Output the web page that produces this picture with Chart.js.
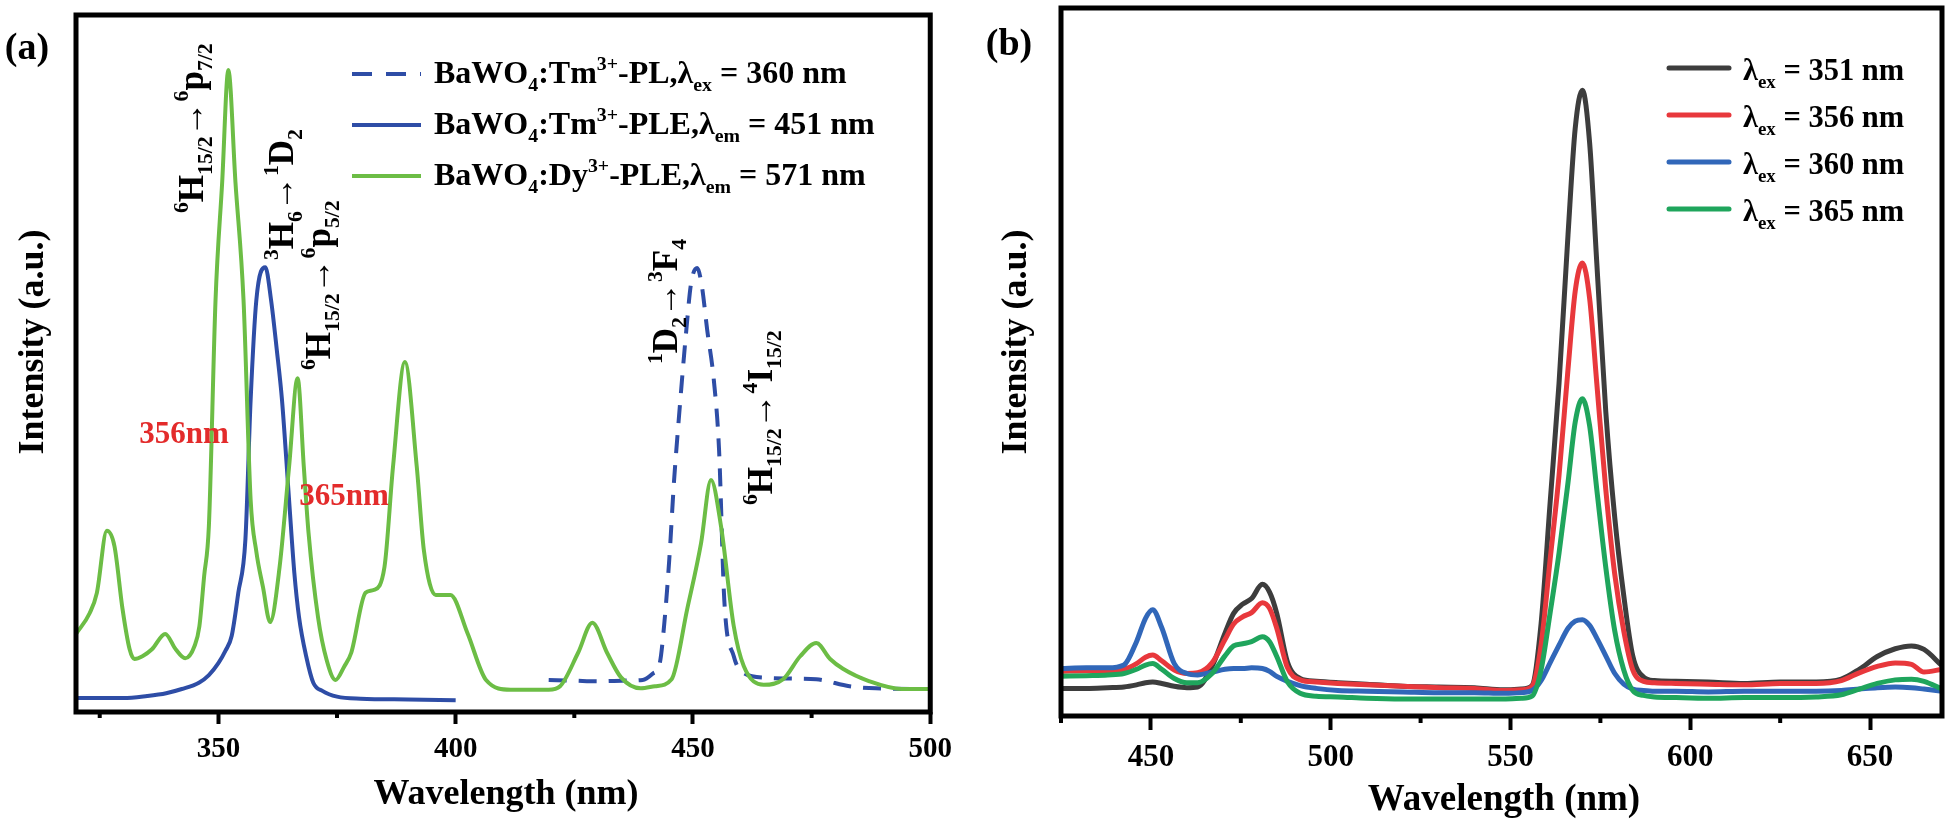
<!DOCTYPE html>
<html>
<head>
<meta charset="utf-8">
<script src="https://cdn.jsdelivr.net/npm/chart.js@4.4.1/dist/chart.umd.min.js"></script>
<style>
  html, body { margin: 0; padding: 0; background: #fff; }
  #wrap { position: relative; width: 1950px; height: 826px; overflow: hidden; }
  canvas { position: absolute; top: 0; }
  #chartA { left: 0; }
  #chartB { left: 960px; }
</style>
</head>
<body>
<div id="wrap">
  <canvas id="chartA" width="960" height="826"></canvas>
  <canvas id="chartB" width="990" height="826"></canvas>
</div>
<script>
const FONT = "'Liberation Serif', 'Times New Roman', serif";

// ---- panel (a) data ----
const ticksA = [350, 400, 450, 500];
const minorTicksA = [325, 375, 425, 475];

const dyWl = [320, 322.9, 324.4, 326.5, 328.1, 329.8, 331.3, 332.3, 334, 336, 338.8, 341, 343, 345, 346, 347, 348, 349.4, 350.8, 352.1, 353.6, 355.3, 356.8, 358, 359.4, 360.9, 362.9, 364.9, 366.7, 368, 369, 371, 372.8, 374.7, 376.5, 378, 381, 382.7, 385, 386.8, 389.3, 391.8, 393.3, 395.8, 398.9, 402.5, 406.4, 411.6, 419.6, 422, 425.8, 428.8, 431.9, 434.8, 439, 442, 445.5, 448.8, 451.7, 453.8, 455.9, 458.6, 460.7, 464.9, 469, 472.6, 476, 478.9, 481.6, 487.2, 494, 500];
const dyPle = [11.2, 14.2, 17.1, 26.0, 23.8, 14.8, 9.0, 7.6, 8.0, 9.0, 11.2, 9.0, 7.7, 9.5, 12.3, 19.5, 26.7, 59.1, 76, 92.1, 76, 59.1, 30.4, 23, 17.9, 12.9, 20.8, 35.2, 47.9, 35.2, 25.7, 13.6, 7.5, 4.6, 6.5, 8.5, 17.1, 17.5, 20.8, 35.2, 50.2, 35.2, 23.2, 16.8, 16.8, 11.3, 4.6, 3.2, 3.2, 3.7, 8.5, 12.8, 8.5, 5.0, 3.4, 3.7, 4.7, 14.8, 24.2, 33.3, 26.7, 12.3, 6.6, 3.9, 4.7, 8.0, 9.9, 7.6, 6.2, 4.4, 3.3, 3.3];

const tmPleWl = [320, 330, 335, 339, 342.3, 345.9, 348, 350, 351.5, 352.8, 354.2, 355.7, 356.8, 358, 359.9, 361.1, 362.3, 363.4, 364.9, 366, 367, 368.5, 370, 372, 375, 380, 390, 400];
const tmPle = [2.0, 2.0, 2.3, 2.7, 3.3, 4.2, 5.3, 7.0, 8.8, 10.9, 17.1, 24.8, 44.8, 59.1, 63.8, 59.1, 52, 44.8, 30.4, 20, 13.6, 8, 4.2, 3.0, 2.2, 1.9, 1.8, 1.7];

const tmPlWl = [419.6, 425, 430, 435, 439.4, 441.5, 443, 444, 445, 446, 447, 448.6, 449.6, 450.9, 451.9, 453, 454.4, 455.5, 456.6, 458.6, 460.7, 465.5, 470, 476, 483, 488.5, 500];
const tmPl = [4.6, 4.5, 4.4, 4.5, 4.6, 5.5, 7.0, 13, 21.8, 33, 41.9, 54.8, 61.5, 63.7, 61.0, 54.8, 47.6, 37.6, 16.1, 8.0, 5.6, 4.9, 4.8, 4.7, 3.7, 3.4, 3.3];

// ---- panel (b) data ----
const ticksB = [450, 500, 550, 600, 650];
const minorTicksB = [425, 475, 525, 575, 625];
const bWl = [425, 432, 438, 442.5, 446, 448.5, 450.5, 453, 456.5, 460, 463, 467, 470.6, 473, 475.5, 478, 481, 483, 485, 488, 491.5, 496, 502, 510, 520, 530, 540, 548, 553, 556, 558.5, 561, 563.5, 566, 568, 570, 572, 574, 576.5, 579, 581.5, 584, 587, 590, 596, 605, 615, 625, 635, 642, 647, 652, 657, 661.5, 665, 670];
const ex351 = [3.9, 3.9, 4.0, 4.1, 4.4, 4.7, 4.8, 4.6, 4.2, 4.0, 4.1, 7.0, 11.7, 14.5, 15.8, 16.6, 18.6, 17.5, 14.5, 7.6, 5.3, 4.9, 4.7, 4.5, 4.2, 4.1, 4.0, 3.7, 3.8, 4.3, 13, 30, 47, 68, 83, 88.4, 81, 64, 43, 28, 17, 8.5, 5.5, 5.0, 4.9, 4.8, 4.6, 4.8, 4.8, 5.2, 6.6, 8.4, 9.5, 9.9, 9.4, 7.1];
const ex356 = [6.3, 6.4, 6.4, 6.6, 7.4, 8.3, 8.6, 7.8, 6.5, 6.0, 6.1, 7.5, 10.8, 13.0, 14.0, 14.6, 16.0, 15.2, 12.4, 6.8, 5.1, 4.8, 4.6, 4.4, 4.2, 4.0, 3.9, 3.6, 3.7, 4.2, 10, 22, 34, 49, 60, 64, 59, 47, 32, 20, 12, 6.5, 4.9, 4.7, 4.6, 4.5, 4.4, 4.6, 4.6, 5.0, 6.1, 7.0, 7.5, 7.3, 6.2, 6.6];
const ex360 = [6.7, 6.8, 6.8, 7.2, 10.5, 13.8, 15.0, 12.5, 7.4, 6.0, 5.8, 6.2, 6.6, 6.7, 6.7, 6.8, 6.7, 6.3, 5.6, 4.9, 4.3, 3.9, 3.6, 3.5, 3.4, 3.3, 3.3, 3.2, 3.3, 3.6, 5.0, 7.5, 10, 12.4, 13.4, 13.6, 12.8, 11, 8.5, 6.0, 4.5, 3.8, 3.6, 3.5, 3.5, 3.4, 3.5, 3.5, 3.5, 3.6, 3.8, 4.0, 4.1, 4.0, 3.8, 3.5];
const ex365 = [5.6, 5.7, 5.8, 6.0, 6.6, 7.2, 7.4, 6.6, 5.3, 4.7, 4.7, 6.0, 8.5, 9.9, 10.2, 10.5, 11.2, 10.5, 8.4, 4.8, 3.2, 2.8, 2.7, 2.5, 2.4, 2.4, 2.4, 2.4, 2.5, 2.8, 6.5, 14.5, 23, 33, 41.5, 44.8, 41, 32, 21, 12, 6.5, 3.6, 2.9, 2.7, 2.6, 2.5, 2.6, 2.6, 2.7, 3.0, 3.8, 4.6, 5.1, 5.2, 4.9, 3.8];

const GREEN_A = '#6cbd45';
const BLUE_A = '#2e4da6';
const colorsB = ['#3d3d3d', '#e8383c', '#3167b9', '#1fa55c'];

const toXY = (xs, ys) => xs.map((x, i) => ({ x, y: ys[i] }));

function richText(ctx, parts, x, y, size, color) {
    let cx = x;
    ctx.textAlign = 'left';
    ctx.textBaseline = 'alphabetic';
    ctx.fillStyle = color;
    for (const [txt, kind] of parts) {
        const s = kind ? size * 0.62 : size;
        const dy = kind === 'sub' ? size * 0.26 : kind === 'sup' ? -size * 0.42 : 0;
        ctx.font = `bold ${s}px ${FONT}`;
        ctx.fillText(txt, cx, y + dy);
        cx += ctx.measureText(txt).width;
    }
    return cx - x;
}

function rotRich(ctx, parts, x, y, size) {
    ctx.save();
    ctx.translate(x, y);
    ctx.rotate(-Math.PI / 2);
    richText(ctx, parts, 0, 0, size, '#000');
    ctx.restore();
}

function plainText(ctx, txt, x, y, size, color, rot) {
    ctx.save();
    ctx.translate(x, y);
    if (rot) ctx.rotate(-Math.PI / 2);
    ctx.font = `bold ${size}px ${FONT}`;
    ctx.fillStyle = color;
    ctx.textAlign = 'center';
    ctx.textBaseline = 'middle';
    ctx.fillText(txt, 0, 0);
    ctx.restore();
}

function drawFrame(chart, minor, minorLen) {
    const { ctx, chartArea: a } = chart;
    const xs = chart.scales.x;
    ctx.save();
    ctx.strokeStyle = '#000';
    ctx.lineWidth = 4;
    minor.forEach(v => {
        const px = xs.getPixelForValue(v);
        ctx.beginPath();
        ctx.moveTo(px, a.bottom);
        ctx.lineTo(px, a.bottom + minorLen);
        ctx.stroke();
    });
    ctx.lineWidth = 5;
    ctx.strokeRect(a.left, a.top, a.right - a.left, a.bottom - a.top);
    ctx.restore();
}

function xScale(min, max, ticks, fontSize, tickLen, pad, axisH) {
    return {
        type: 'linear', min, max,
        afterBuildTicks: s => { s.ticks = ticks.map(v => ({ value: v })); },
        afterFit: s => { s.height = axisH; },
        border: { display: false },
        grid: { drawOnChartArea: false, tickLength: tickLen, tickWidth: 4, tickColor: '#000' },
        ticks: { color: '#000', font: { family: FONT, size: fontSize, weight: 'bold' }, padding: pad, maxRotation: 0 }
    };
}

const decorA = {
    id: 'decorA',
    afterDraw(chart) {
        const ctx = chart.ctx;
        drawFrame(chart, minorTicksA, 6);
        plainText(ctx, '(a)', 27, 49, 38, '#000');
        plainText(ctx, 'Intensity (a.u.)', 34, 342, 36, '#000', true);
        plainText(ctx, 'Wavelength (nm)', 506, 795, 36, '#000');

        // legend
        const rows = [
            [['BaWO'], ['4', 'sub'], [':Tm'], ['3+', 'sup'], ['-PL,λ'], ['ex', 'sub'], [' = 360 nm']],
            [['BaWO'], ['4', 'sub'], [':Tm'], ['3+', 'sup'], ['-PLE,λ'], ['em', 'sub'], [' = 451 nm']],
            [['BaWO'], ['4', 'sub'], [':Dy'], ['3+', 'sup'], ['-PLE,λ'], ['em', 'sub'], [' = 571 nm']]
        ];
        const styles = [[BLUE_A, [20, 14]], [BLUE_A, []], [GREEN_A, []]];
        rows.forEach((r, i) => {
            const base = 83 + i * 51;
            ctx.save();
            ctx.strokeStyle = styles[i][0];
            ctx.lineWidth = 4;
            ctx.setLineDash(styles[i][1]);
            ctx.beginPath();
            ctx.moveTo(352, base - 9);
            ctx.lineTo(421, base - 9);
            ctx.stroke();
            ctx.restore();
            richText(ctx, r, 434, base, 32, '#000');
        });

        // transition labels
        rotRich(ctx, [['6', 'sup'], ['H'], ['15/2', 'sub'], ['→'], ['6', 'sup'], ['p'], ['7/2', 'sub']], 203, 213, 35);
        rotRich(ctx, [['3', 'sup'], ['H'], ['6', 'sub'], ['→'], ['1', 'sup'], ['D'], ['2', 'sub']], 293, 260, 35);
        rotRich(ctx, [['6', 'sup'], ['H'], ['15/2', 'sub'], ['→'], ['6', 'sup'], ['p'], ['5/2', 'sub']], 330, 370, 35);
        rotRich(ctx, [['1', 'sup'], ['D'], ['2', 'sub'], ['→'], ['3', 'sup'], ['F'], ['4', 'sub']], 677, 364, 35);
        rotRich(ctx, [['6', 'sup'], ['H'], ['15/2', 'sub'], ['→'], ['4', 'sup'], ['I'], ['15/2', 'sub']], 772, 505, 35);

        plainText(ctx, '356nm', 184, 435, 31, '#e32b2b');
        plainText(ctx, '365nm', 344, 497, 31, '#e32b2b');
    }
};

const decorB = {
    id: 'decorB',
    afterDraw(chart) {
        const ctx = chart.ctx;
        drawFrame(chart, minorTicksB, 7);
        plainText(ctx, '(b)', 49, 45, 38, '#000');
        plainText(ctx, 'Intensity (a.u.)', 57, 342, 36, '#000', true);
        plainText(ctx, 'Wavelength (nm)', 544, 800, 37, '#000');

        const labels = ['351', '356', '360', '365'];
        labels.forEach((l, i) => {
            const base = 80 + i * 47;
            ctx.save();
            ctx.strokeStyle = colorsB[i];
            ctx.lineWidth = 5;
            ctx.lineCap = 'round';
            ctx.beginPath();
            ctx.moveTo(709, base - 12);
            ctx.lineTo(769, base - 12);
            ctx.stroke();
            ctx.restore();
            richText(ctx, [['λ'], ['ex', 'sub'], [' = ' + l + ' nm']], 783, base, 30.5, '#000');
        });
    }
};

const lineDs = (data, color, extra) => Object.assign({
    data, borderColor: color, borderWidth: 4, pointRadius: 0,
    fill: false, cubicInterpolationMode: 'monotone'
}, extra || {});

new Chart(document.getElementById('chartA'), {
    type: 'line',
    data: {
        datasets: [
            lineDs(toXY(tmPlWl, tmPl), BLUE_A, { borderDash: [18, 12], order: 3 }),
            lineDs(toXY(tmPleWl, tmPle), BLUE_A, { order: 2 }),
            lineDs(toXY(dyWl, dyPle), GREEN_A, { order: 1 })
        ]
    },
    options: {
        responsive: false, animation: false,
        layout: { padding: { left: 76, right: 24, top: 15, bottom: 0 } },
        plugins: { legend: { display: false }, tooltip: { enabled: false } },
        scales: {
            x: xScale(320, 500, ticksA, 29, 12, 8, 114),
            y: { display: false, min: 0, max: 100 }
        }
    },
    plugins: [decorA]
});

new Chart(document.getElementById('chartB'), {
    type: 'line',
    data: {
        datasets: [ex351, ex356, ex360, ex365].map((s, i) =>
            lineDs(toXY(bWl, s), colorsB[i], { borderWidth: 5, order: 4 - i }))
    },
    options: {
        responsive: false, animation: false,
        layout: { padding: { left: 101, right: 8, top: 8, bottom: 0 } },
        plugins: { legend: { display: false }, tooltip: { enabled: false } },
        scales: {
            x: xScale(425, 670, ticksB, 31, 14, 9, 110),
            y: { display: false, min: 0, max: 100 }
        }
    },
    plugins: [decorB]
});
</script>
</body>
</html>
